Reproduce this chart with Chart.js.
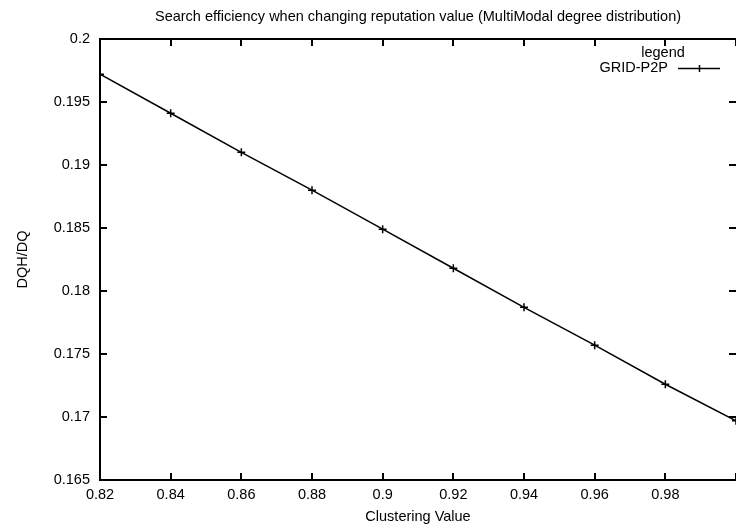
<!DOCTYPE html>
<html>
<head>
<meta charset="utf-8">
<script src="https://cdn.jsdelivr.net/npm/chart.js@4"></script>
<style>
  body { margin: 0; background: #fff; }
  canvas { display: block; }
</style>
</head>
<body>
<canvas id="myChart" width="736" height="527"></canvas>
<script>
const clustering = [0.82, 0.84, 0.86, 0.88, 0.90, 0.92, 0.94, 0.96, 0.98, 1.0]
const gridP2P = [0.1972, 0.1941, 0.1910, 0.1880, 0.1849, 0.1818, 0.1787, 0.1757, 0.1726, 0.1697]
const xTicks = [0.82, 0.84, 0.86, 0.88, 0.9, 0.92, 0.94, 0.96, 0.98, 1.0]
const yTicks = [0.165, 0.17, 0.175, 0.18, 0.185, 0.19, 0.195, 0.2]

const font = 'Liberation Sans, Arial, Helvetica, sans-serif'
const fontSize = 14.5
const canvas = document.getElementById('myChart')

// gnuplot style frame with inward ticks on all four sides + legend
const gnuplotFrame = {
    id: 'gnuplotFrame',
    afterDatasetsDraw(chart) {
        const {ctx, chartArea: a, scales} = chart
        const tl = 7
        ctx.save()
        ctx.strokeStyle = '#000'
        ctx.lineWidth = 2
        ctx.beginPath()
        ctx.rect(a.left, a.top, a.right - a.left + 1, a.bottom - a.top)
        for (let v of xTicks) {
            const x = Math.round(scales.x.getPixelForValue(v))
            ctx.moveTo(x, a.bottom); ctx.lineTo(x, a.bottom - tl)
            ctx.moveTo(x, a.top); ctx.lineTo(x, a.top + tl)
        }
        for (let v of yTicks) {
            const y = Math.round(scales.y.getPixelForValue(v))
            ctx.moveTo(a.left, y); ctx.lineTo(a.left + tl, y)
            ctx.moveTo(a.right, y); ctx.lineTo(a.right - tl, y)
        }
        ctx.stroke()

        // legend box
        const ds = chart.data.datasets[0]
        ctx.fillStyle = '#000'
        ctx.font = fontSize + 'px ' + font
        ctx.textBaseline = 'middle'
        ctx.textAlign = 'center'
        ctx.fillText('legend', 663, 53)
        ctx.textAlign = 'right'
        ctx.fillText(ds.label, 668, 68)
        ctx.lineWidth = 1.5
        ctx.beginPath()
        ctx.moveTo(678, 68.5); ctx.lineTo(720, 68.5)
        ctx.moveTo(699.5, 65); ctx.lineTo(699.5, 72)
        ctx.moveTo(696, 68.5); ctx.lineTo(703, 68.5)
        ctx.stroke()
        ctx.restore()
    }
}

const config = {
    type: 'scatter',
    data: {
        datasets: [{
            label: 'GRID-P2P',
            data: clustering.map((x, i) => ({x, y: gridP2P[i]})),
            showLine: true,
            borderColor: '#000',
            borderWidth: 1.5,
            pointStyle: 'cross',
            pointRadius: 4,
            pointBorderColor: '#000',
            pointBorderWidth: 1.5,
            pointBackgroundColor: '#000'
        }]
    },
    options: {
        responsive: false,
        animation: false,
        devicePixelRatio: 1,
        layout: { padding: 0, autoPadding: false },
        plugins: {
            legend: { display: false },
            tooltip: { enabled: false },
            title: {
                display: true,
                fullSize: false,
                text: 'Search efficiency when changing reputation value (MultiModal degree distribution)',
                color: '#000',
                font: { family: font, size: fontSize, weight: 'normal' },
                padding: { top: 8.5, bottom: 13 }
            }
        },
        scales: {
            x: {
                type: 'linear',
                min: 0.82,
                max: 1.0,
                afterBuildTicks: s => { s.ticks = xTicks.map(v => ({value: v})) },
                afterFit: s => { s.height = 47; s.paddingLeft = 0; s.paddingRight = 0 },
                grid: { display: false, drawTicks: false },
                border: { display: false },
                ticks: {
                    color: '#000',
                    padding: 6,
                    maxRotation: 0,
                    font: { family: font, size: fontSize },
                    callback: v => v >= 1 ? '' : String(Number(v.toFixed(2)))
                },
                title: {
                    display: true,
                    text: 'Clustering Value',
                    color: '#000',
                    font: { family: font, size: fontSize },
                    padding: { top: 0, bottom: 1.3 }
                }
            },
            y: {
                min: 0.165,
                max: 0.2,
                afterBuildTicks: s => { s.ticks = yTicks.map(v => ({value: v})) },
                afterFit: s => { s.width = 100 },
                grid: { display: false, drawTicks: false },
                border: { display: false },
                ticks: {
                    color: '#000',
                    padding: 10,
                    font: { family: font, size: fontSize },
                    callback: v => String(Number(v.toFixed(3)))
                },
                title: {
                    display: true,
                    text: 'DQH/DQ',
                    color: '#000',
                    font: { family: font, size: fontSize },
                    padding: { top: 14, bottom: 0 }
                }
            }
        }
    },
    plugins: [gnuplotFrame]
}

const myChart = new Chart(canvas, config)
</script>
</body>
</html>
